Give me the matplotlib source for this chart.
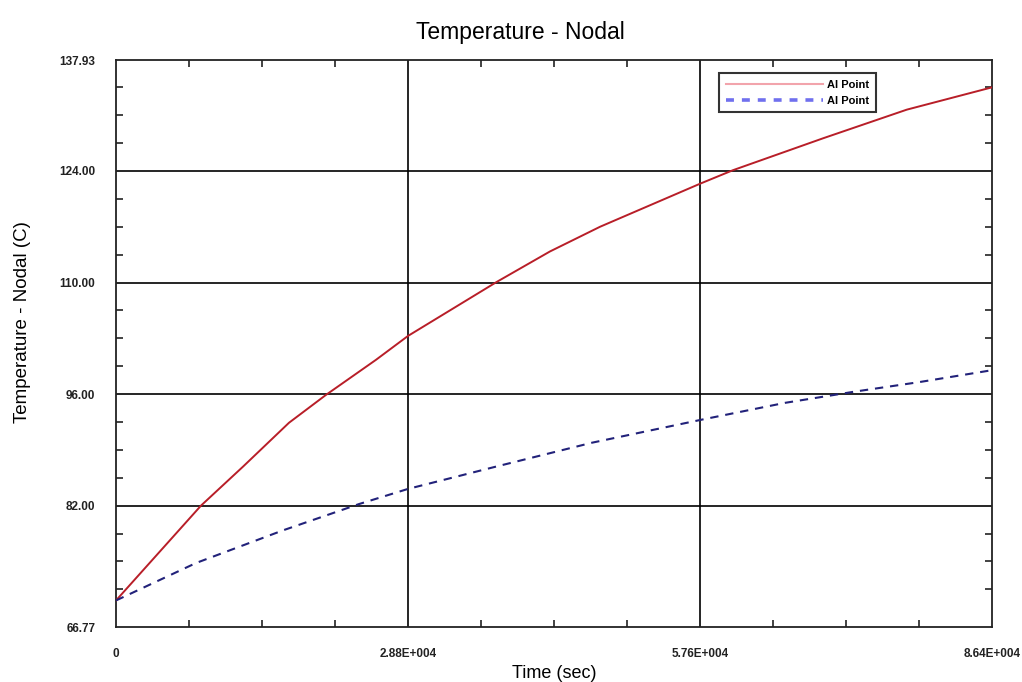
import matplotlib.pyplot as plt
from matplotlib.lines import Line2D
import numpy as np

# Tiempo (s) y temperatura nodal (C)
tiempo_rojo = [0, 8380, 12530, 17060, 20710, 25640, 28800, 37580, 42800,
               47740, 52670, 57600, 60850, 69730, 78000, 86400]
temp_roja = [70.1, 82.0, 86.9, 92.4, 95.9, 100.3, 103.3, 110.1, 113.9,
             117.0, 119.7, 122.4, 124.1, 128.1, 131.7, 134.5]
tiempo_azul = [0, 7890, 16470, 23970, 28800, 37480, 46950, 57800, 65980,
               72800, 79200, 86400]
temp_azul = [70.1, 74.8, 78.9, 82.2, 84.1, 86.9, 89.9, 92.8, 94.9,
             96.3, 97.5, 99.0]

yticks = [66.77, 82.00, 96.00, 110.00, 124.00, 137.93]
xticks = [0, 28800, 57600, 86400]
xlabels = ["0", "2.88E+004", "5.76E+004", "8.64E+004"]

plt.rcParams['font.family'] = ['Liberation Sans', 'DejaVu Sans']

fig = plt.figure(figsize=(10.22, 6.82), dpi=100)
ax = fig.add_axes([116 / 1022, 1 - 627 / 682, 876 / 1022, 567 / 682])

ax.plot(tiempo_rojo, temp_roja, color="#b81e28", lw=1.4, zorder=3)
ax.plot(tiempo_azul, temp_azul, color="#22227a", lw=1.5,
        linestyle=(0, (4, 3.3)), zorder=3)

ax.set_xlim(0, 86400)
ax.set_ylim(yticks[0], yticks[-1])

ax.set_yticks(yticks)
ax.set_yticklabels(["%.2f" % v for v in yticks])
ax.set_xticks(xticks)
ax.set_xticklabels(xlabels)
ax.set_xticks(np.arange(7200, 86400, 7200), minor=True)
menores_y = [71.5, 75.0, 78.5, 85.5, 89.0, 92.5, 99.5, 103.0, 106.5,
             113.5, 117.0, 120.5, 127.5, 131.0, 134.5]
ax.set_yticks(menores_y, minor=True)
ax.tick_params(which="both", direction="in", top=True, right=True,
               labelsize=8.5, pad=15, colors="#222222")
ax.tick_params(which="major", length=0)
ax.tick_params(which="minor", length=5, width=1.2)
for lbl in ax.get_xticklabels() + ax.get_yticklabels():
    lbl.set_fontweight("bold")

for y in yticks[1:-1]:
    ax.axhline(y, color="black", lw=1.2, zorder=1)
for x in xticks[1:-1]:
    ax.axvline(x, color="black", lw=1.2, zorder=1)

for s in ax.spines.values():
    s.set_linewidth(1.3)
    s.set_color("#222222")

fig.text(520 / 1022, 1 - 33 / 682, "Temperature - Nodal", fontsize=16.5,
         ha="center", va="center")
fig.text(23 / 1022, 1 - 322 / 682, "Temperature - Nodal (C)", fontsize=13.5,
         rotation=90, ha="center", va="center")
fig.text(554 / 1022, 1 - 673 / 682, "Time (sec)", fontsize=13,
         ha="center", va="center")

# Leyenda con trazos claros como en el original
manejadores = [Line2D([], [], color="#f2a4ac", lw=1.5),
               Line2D([], [], color="#7070ee", lw=2.6, linestyle=(0, (2.2, 2.2)))]
leg = ax.legend(manejadores, ["Al Point", "Al Point"], loc="upper left",
                bbox_to_anchor=(719 / 1022, 1 - 73 / 682),
                bbox_transform=fig.transFigure, fontsize=8, handlelength=8.8,
                frameon=True, fancybox=False, edgecolor="black", borderpad=0.6,
                labelspacing=0.55, handletextpad=0.3, borderaxespad=0)
leg.get_frame().set_linewidth(1.5)
for t in leg.get_texts():
    t.set_fontweight("bold")

fig.savefig("out.png", dpi=100)
plt.close(fig)
